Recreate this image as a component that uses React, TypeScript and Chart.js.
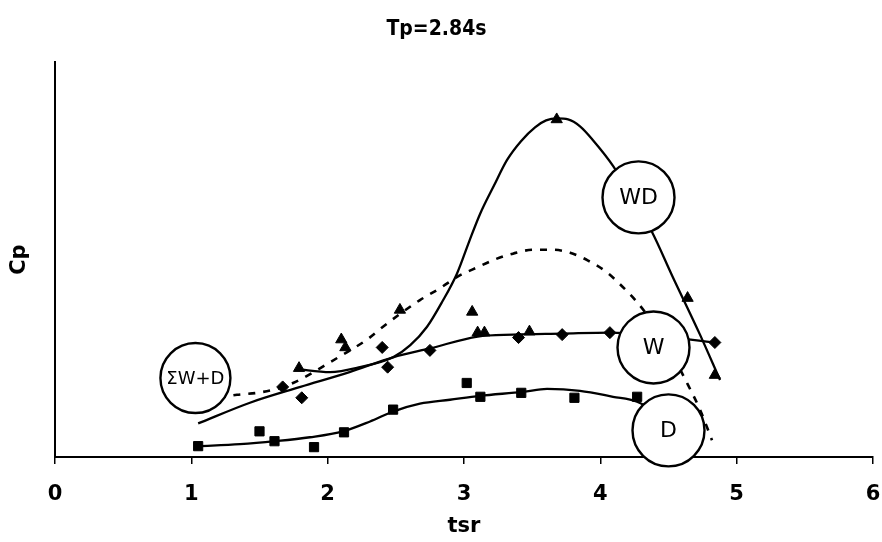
import React, { useEffect, useRef } from "react";
import { Chart, registerables } from "chart.js";

Chart.register(...registerables);

const TITLE = "Tp=2.84s";
const X_LABEL = "tsr";
const Y_LABEL = "Cp";
const X_TICKS = [0, 1, 2, 3, 4, 5, 6];

// Measured points: WD (triangles), W (diamonds), D (squares)
const wdTsr = [1.79, 2.1, 2.13, 2.53, 3.06, 3.1, 3.15, 3.48, 3.68, 4.64, 4.84];
const wdCp = [0.09, 0.119, 0.111, 0.149, 0.147, 0.126, 0.126, 0.127, 0.342, 0.161, 0.083];

const wTsr = [1.67, 1.81, 2.4, 2.44, 2.75, 3.4, 3.72, 4.07, 4.84];
const wCp = [0.071, 0.06, 0.111, 0.091, 0.108, 0.121, 0.124, 0.126, 0.116];

const dTsr = [1.05, 1.5, 1.61, 1.9, 2.12, 2.48, 3.02, 3.12, 3.42, 3.81, 4.27];
const dCp = [0.011, 0.026, 0.016, 0.01, 0.025, 0.048, 0.075, 0.061, 0.065, 0.06, 0.061];

// Fitted trend curves
const wdFitTsr = [1.775, 2.017, 2.237, 2.479, 2.604, 2.729, 2.839, 2.949, 3.037, 3.117, 3.22, 3.316, 3.418, 3.521, 3.602, 3.682, 3.763, 3.851, 3.946, 4.093, 4.232, 4.379, 4.526, 4.731, 4.878];
const wdFitCp = [0.089, 0.086, 0.091, 0.101, 0.113, 0.132, 0.157, 0.186, 0.218, 0.246, 0.275, 0.301, 0.32, 0.334, 0.341, 0.343, 0.342, 0.335, 0.321, 0.295, 0.263, 0.228, 0.184, 0.124, 0.078];

const wFitTsr = [1.05, 1.43, 1.8, 2.16, 2.48, 2.75, 3.1, 3.36, 3.72, 4.07, 4.4, 4.84];
const wFitCp = [0.034, 0.055, 0.071, 0.086, 0.101, 0.11, 0.122, 0.124, 0.125, 0.126, 0.123, 0.116];

const dFitTsr = [1.049, 1.357, 1.614, 1.87, 2.113, 2.311, 2.479, 2.677, 2.897, 3.117, 3.433, 3.609, 3.851, 4.093, 4.269, 4.474];
const dFitCp = [0.011, 0.013, 0.016, 0.02, 0.026, 0.036, 0.046, 0.054, 0.058, 0.062, 0.066, 0.069, 0.067, 0.061, 0.056, 0.04];

const sumFitTsr = [1.2, 1.335, 1.482, 1.628, 1.746, 1.885, 2.017, 2.164, 2.289, 2.406, 2.531, 2.677, 2.824, 2.956, 3.095, 3.242, 3.359, 3.506, 3.646, 3.778, 3.91, 4.049, 4.159, 4.269, 4.379, 4.511, 4.643, 4.731, 4.819];
const sumFitCp = [0.06, 0.063, 0.065, 0.069, 0.075, 0.085, 0.096, 0.108, 0.119, 0.132, 0.145, 0.159, 0.171, 0.183, 0.192, 0.201, 0.206, 0.21, 0.21, 0.207, 0.199, 0.187, 0.173, 0.157, 0.137, 0.108, 0.073, 0.048, 0.017];

// Circled curve labels
const calloutText = ["ΣW+D", "WD", "W", "D"];
const calloutTsr = [1.03, 4.28, 4.39, 4.5];
const calloutCp = [0.08, 0.263, 0.111, 0.027];

const FONT = "'DejaVu Sans', Verdana, sans-serif";
const TITLE_FONT = "'DejaVu Sans Condensed', 'DejaVu Sans', sans-serif";

const pts = (xs: number[], ys: number[]) => xs.map((x, i) => ({ x, y: ys[i] }));

const calloutPlugin = {
  id: "callouts",
  afterDatasetsDraw(chart: any) {
    const { ctx, scales } = chart;
    ctx.save();
    calloutText.forEach((t, i) => {
      const cx = scales.x.getPixelForValue(calloutTsr[i]);
      const cy = scales.y.getPixelForValue(calloutCp[i]);
      const r = i === 0 ? 35 : 36;
      ctx.beginPath();
      ctx.arc(cx, cy, r, 0, Math.PI * 2);
      ctx.fillStyle = "#fff";
      ctx.fill();
      ctx.lineWidth = 2.4;
      ctx.strokeStyle = "#000";
      ctx.stroke();
      ctx.fillStyle = "#000";
      ctx.font = `${i === 0 ? 18 : 22}px ${FONT}`;
      ctx.textAlign = "center";
      ctx.textBaseline = "middle";
      ctx.fillText(t, cx, cy + 1);
    });
    ctx.restore();
  },
};

export default function App() {
  const ref = useRef<HTMLCanvasElement>(null);

  useEffect(() => {
    document.body.style.margin = "0";
    const line = (xs: number[], ys: number[], dash: number[] = []) => ({
      type: "line" as const,
      data: pts(xs, ys),
      showLine: true,
      borderColor: "#000",
      borderWidth: dash.length ? 2.6 : 2.3,
      borderDash: dash,
      pointRadius: 0,
      fill: false,
      cubicInterpolationMode: "monotone" as const,
    });
    const marks = (xs: number[], ys: number[], style: string, radius: number) => ({
      type: "scatter" as const,
      data: pts(xs, ys),
      pointStyle: style,
      pointRadius: radius,
      pointBackgroundColor: "#000",
      pointBorderColor: "#000",
      pointBorderWidth: 1,
      showLine: false,
    });

    const chart = new Chart(ref.current!, {
      type: "scatter",
      data: {
        datasets: [
          marks(wdTsr, wdCp, "triangle", 6.5),
          marks(wTsr, wCp, "rectRot", 6),
          marks(dTsr, dCp, "rect", 6.5),
          line(wdFitTsr, wdFitCp),
          line(wFitTsr, wFitCp),
          line(dFitTsr, dFitCp),
          line(sumFitTsr, sumFitCp, [7, 8]),
        ] as any,
      },
      options: {
        animation: false,
        responsive: false,
        events: [],
        layout: { padding: { left: 0, right: 9, top: 0, bottom: 0 } },
        plugins: {
          legend: { display: false },
          tooltip: { enabled: false },
          title: {
            display: true,
            text: TITLE,
            color: "#000",
            font: { family: TITLE_FONT, size: 21, weight: "bold" },
            padding: { top: 17, bottom: 20 },
          },
        },
        scales: {
          x: {
            type: "linear",
            min: 0,
            max: 6,
            afterBuildTicks: (s: any) => {
              s.ticks = X_TICKS.map((v) => ({ value: v }));
            },
            afterFit: (s: any) => {
              s.height = 85;
              s.paddingLeft = 0;
              s.paddingRight = 0;
            },
            ticks: {
              color: "#000",
              font: { family: FONT, size: 21, weight: "bold" },
              padding: 18,
              maxRotation: 0,
            },
            grid: {
              display: true,
              drawOnChartArea: false,
              drawTicks: true,
              tickLength: 7,
              color: "#000",
              lineWidth: 1.5,
            },
            border: { display: true, color: "#000", width: 2 },
            title: {
              display: true,
              text: X_LABEL,
              color: "#000",
              font: { family: FONT, size: 21, weight: "bold" },
              padding: { top: 0, bottom: 3 },
            },
          },
          y: {
            type: "linear",
            min: 0,
            max: 0.4,
            afterFit: (s: any) => {
              s.width = 55;
            },
            ticks: { display: false },
            grid: { display: false },
            border: { display: true, color: "#000", width: 2 },
            title: {
              display: true,
              text: Y_LABEL,
              color: "#000",
              font: { family: FONT, size: 21, weight: "bold" },
              padding: { top: 7, bottom: 0 },
            },
          },
        },
      } as any,
      plugins: [calloutPlugin],
    });
    return () => chart.destroy();
  }, []);

  return (
    <div style={{ position: "fixed", left: 0, top: 0, width: 882, height: 542, background: "#fff" }}>
      <canvas ref={ref} width={882} height={542} style={{ width: 882, height: 542 }} />
    </div>
  );
}
